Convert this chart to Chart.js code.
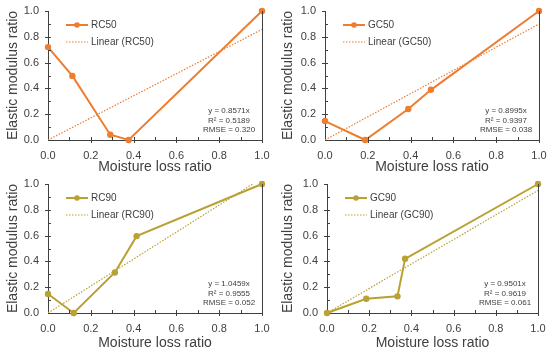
<!DOCTYPE html>
<html>
<head>
<meta charset="utf-8">
<script src="https://cdn.jsdelivr.net/npm/chart.js@4.4.1/dist/chart.umd.min.js"></script>
<style>
body { margin: 0; background: #fff; }
#wrap { position: relative; width: 550px; height: 352px; overflow: hidden; }
#wrap canvas { position: absolute; }
</style>
</head>
<body>
<div id="wrap">
  <canvas id="c0" width="275" height="176" style="left:0px;top:0px"></canvas>
  <canvas id="c1" width="275" height="176" style="left:275px;top:0px"></canvas>
  <canvas id="c2" width="275" height="176" style="left:0px;top:176px"></canvas>
  <canvas id="c3" width="275" height="176" style="left:275px;top:176px"></canvas>
</div>
<script>
// valores
const seriesNames = ['RC50', 'GC50', 'RC90', 'GC90'];

const moistRC50 = [0, 0.114, 0.291, 0.377, 1.0];
const modRC50 = [0.72, 0.497, 0.041, 0, 1.0];

const moistGC50 = [0, 0.188, 0.389, 0.495, 1.0];
const modGC50 = [0.147, 0, 0.24, 0.389, 1.0];

const moistRC90 = [0, 0.12, 0.3125, 0.414, 1.0];
const modRC90 = [0.147, 0, 0.314, 0.596, 1.0];

const moistGC90 = [0, 0.186, 0.334, 0.37, 1.0];
const modGC90 = [0, 0.11, 0.129, 0.42, 1.0];

// linha de tendência y = a*x (valor em x = 1)
const trendX = [0, 1];
const trendEnd = [0.8571, 0.8995, 1.0459, 0.9501];
const r2Text = ['0.5189', '0.9397', '0.9555', '0.9619'];
const rmseText = ['0.320', '0.038', '0.052', '0.061'];

const axisTicks = [0, 0.2, 0.4, 0.6, 0.8, 1.0];

const allMoist = [moistRC50, moistGC50, moistRC90, moistGC90];
const allMod = [modRC50, modGC50, modRC90, modGC90];

const ORANGE = '#ED7D31';
const OLIVE = '#B9A133';
const colors = [ORANGE, ORANGE, OLIVE, OLIVE];

// área do gráfico de cada painel (left, right, top, bottom) no canvas 275x176
const areas = [
    [48, 262, 11, 140],
    [50, 264, 11, 140],
    [48, 262, 8, 137],
    [52, 263, 8, 137]
];

const FONT = "'Liberation Sans', Arial, sans-serif";
const AXIS_COLOR = '#404040';

// desenha ticks, borda direita, legenda e equação
const extrasPlugin = {
    id: 'extras',
    afterDraw(chart, args, opts) {
        const ctx = chart.ctx;
        const area = chart.chartArea;
        const xs = chart.scales.x;
        const ys = chart.scales.y;
        ctx.save();
        ctx.strokeStyle = AXIS_COLOR;
        ctx.lineWidth = 1;
        ctx.beginPath();
        // borda direita
        ctx.moveTo(Math.round(area.right) + 0.5, area.top);
        ctx.lineTo(Math.round(area.right) + 0.5, area.bottom);
        for (let i = 1; i < 10; i++) {
            const v = i / 10;
            const px = Math.round(xs.getPixelForValue(v)) + 0.5;
            const py = Math.round(ys.getPixelForValue(v)) + 0.5;
            const major = i % 2 === 0;
            ctx.moveTo(px, area.bottom - 3);
            ctx.lineTo(px, area.bottom + (major ? 3 : 0));
            ctx.moveTo(area.left + 3, py);
            ctx.lineTo(area.left - (major ? 3 : 0), py);
        }
        ctx.moveTo(area.left, Math.round(ys.getPixelForValue(1)) + 0.5);
        ctx.lineTo(area.left - 3, Math.round(ys.getPixelForValue(1)) + 0.5);
        ctx.moveTo(Math.round(xs.getPixelForValue(1)) + 0.5, area.bottom);
        ctx.lineTo(Math.round(xs.getPixelForValue(1)) + 0.5, area.bottom + 3);
        ctx.stroke();

        // legenda
        const lx = area.left + 18;
        const ly1 = area.top + 14;
        const ly2 = area.top + 31;
        ctx.strokeStyle = opts.color;
        ctx.lineWidth = 2;
        ctx.beginPath();
        ctx.moveTo(lx, ly1);
        ctx.lineTo(lx + 22, ly1);
        ctx.stroke();
        ctx.fillStyle = opts.color;
        ctx.beginPath();
        ctx.arc(lx + 11, ly1, 2.8, 0, Math.PI * 2);
        ctx.fill();
        ctx.lineWidth = 1.2;
        ctx.setLineDash([1.5, 1.5]);
        ctx.beginPath();
        ctx.moveTo(lx, ly2);
        ctx.lineTo(lx + 22, ly2);
        ctx.stroke();
        ctx.setLineDash([]);
        ctx.fillStyle = '#404040';
        ctx.font = '10px ' + FONT;
        ctx.textBaseline = 'middle';
        ctx.textAlign = 'left';
        ctx.fillText(opts.name, lx + 25, ly1);
        ctx.fillText('Linear (' + opts.name + ')', lx + 25, ly2);

        // equação
        ctx.font = '8px ' + FONT;
        ctx.textAlign = 'center';
        const cx = area.right - 33;
        ctx.fillText('y = ' + opts.slope.toFixed(4) + 'x', cx, area.bottom - 29);
        ctx.fillText('R\u00B2 = ' + opts.r2, cx, area.bottom - 19.5);
        ctx.fillText('RMSE = ' + opts.rmse, cx, area.bottom - 10);
        ctx.restore();
    }
};

function makeChart(idx) {
    const area = areas[idx];
    const color = colors[idx];
    const points = allMoist[idx].map((x, i) => ({ x: x, y: allMod[idx][i] }));
    const trend = trendX.map((x, i) => ({ x: x, y: i === 0 ? 0 : trendEnd[idx] }));

    const ctx = document.getElementById('c' + idx).getContext('2d');
    return new Chart(ctx, {
        type: 'scatter',
        data: {
            datasets: [{
                label: seriesNames[idx],
                data: points,
                showLine: true,
                borderColor: color,
                backgroundColor: color,
                borderWidth: 2,
                pointRadius: 3.2,
                pointBorderWidth: 0,
                clip: false
            }, {
                label: 'Linear (' + seriesNames[idx] + ')',
                data: trend,
                showLine: true,
                borderColor: color,
                borderWidth: 1.2,
                borderDash: [1.5, 1.5],
                pointRadius: 0
            }]
        },
        options: {
            responsive: false,
            animation: false,
            devicePixelRatio: 1,
            layout: {
                padding: { top: area[2], right: 275 - area[1], left: 0, bottom: 0 }
            },
            plugins: {
                legend: { display: false },
                tooltip: { enabled: false },
                extras: {
                    name: seriesNames[idx],
                    color: color,
                    slope: trendEnd[idx],
                    r2: r2Text[idx],
                    rmse: rmseText[idx]
                }
            },
            scales: {
                x: {
                    type: 'linear',
                    min: 0,
                    max: 1,
                    afterFit: s => {
                        s.height = 176 - area[3];
                        s.paddingLeft = 0;
                        s.paddingRight = 0;
                    },
                    afterBuildTicks: s => { s.ticks = axisTicks.map(v => ({ value: v })); },
                    grid: { display: false, drawTicks: false },
                    border: { display: true, color: AXIS_COLOR, width: 1 },
                    ticks: {
                        padding: 9,
                        color: '#404040',
                        font: { family: FONT, size: 11 },
                        callback: v => v.toFixed(1)
                    },
                    title: {
                        display: true,
                        text: 'Moisture loss ratio',
                        color: '#404040',
                        font: { family: FONT, size: 14 },
                        padding: { top: 0, bottom: 0 }
                    }
                },
                y: {
                    type: 'linear',
                    min: 0,
                    max: 1,
                    afterFit: s => {
                        s.width = area[0];
                        s.paddingTop = 0;
                        s.paddingBottom = 0;
                    },
                    afterBuildTicks: s => { s.ticks = axisTicks.map(v => ({ value: v })); },
                    grid: { display: false, drawTicks: false },
                    border: { display: true, color: AXIS_COLOR, width: 1 },
                    ticks: {
                        padding: 9,
                        color: '#404040',
                        font: { family: FONT, size: 11 },
                        callback: v => v.toFixed(1)
                    },
                    title: {
                        display: true,
                        text: 'Elastic modulus ratio',
                        color: '#404040',
                        font: { family: FONT, size: 14 },
                        padding: { top: 5, bottom: 0 }
                    }
                }
            }
        },
        plugins: [extrasPlugin]
    });
}

for (let i = 0; i < 4; i++) {
    makeChart(i);
}
</script>
</body>
</html>
